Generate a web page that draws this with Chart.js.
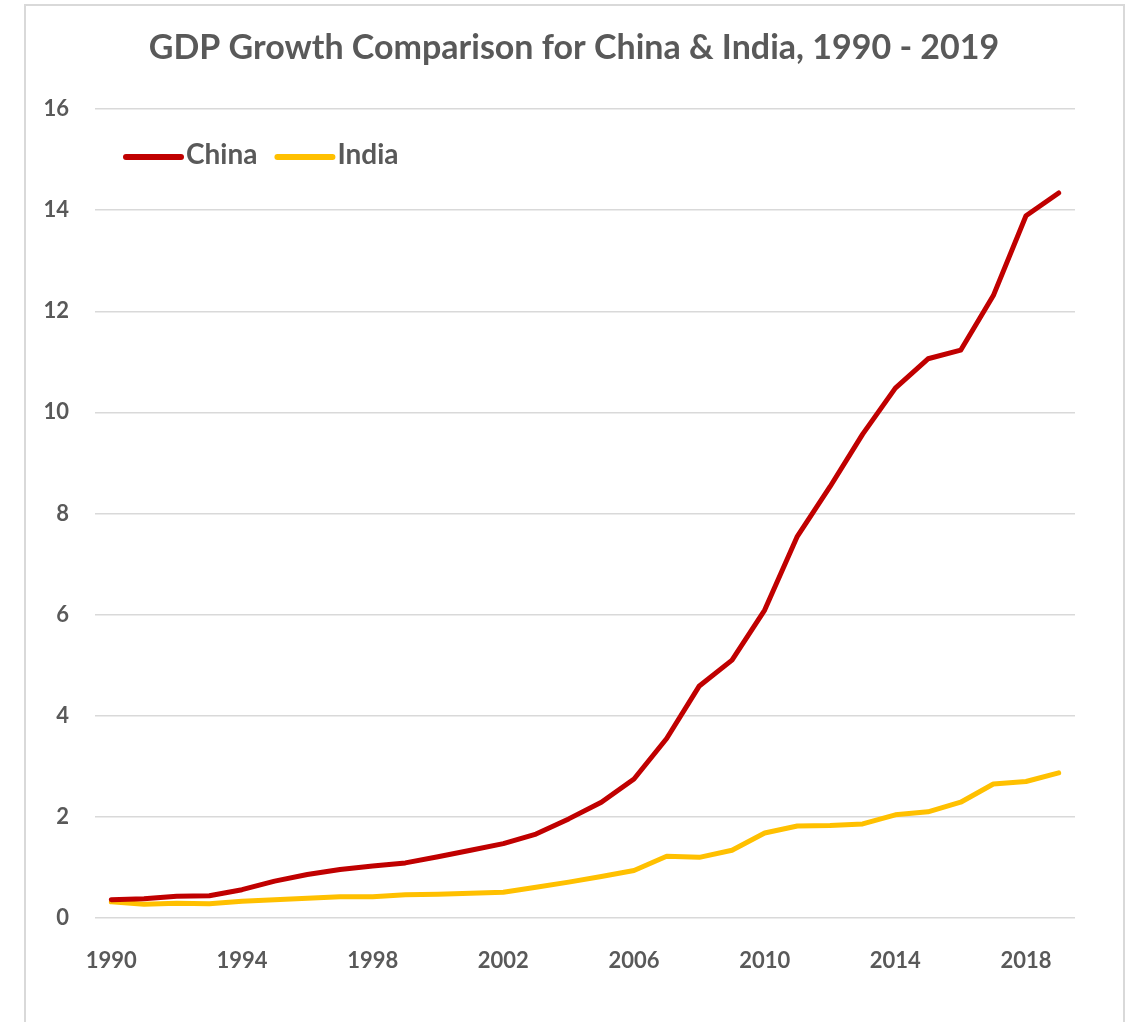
<!DOCTYPE html>
<html>
<head>
<meta charset="utf-8">
<title>GDP Growth Comparison for China & India, 1990 - 2019</title>
<script src="https://cdn.jsdelivr.net/npm/chart.js@4.4.1/dist/chart.umd.min.js"></script>
<style>
  html, body { margin: 0; padding: 0; background: #fff; }
  #wrap { width: 1133px; height: 1022px; position: relative; }
</style>
</head>
<body>
<div id="wrap"><canvas id="grafico" width="1133" height="1022"></canvas></div>
<script>
// anos
var years = [];
for (var y = 1990; y <= 2019; y++) years.push(String(y));

// PIB em trilhões de US$
var china = [0.36, 0.38, 0.43, 0.44, 0.56, 0.73, 0.86, 0.96, 1.03, 1.09,
             1.21, 1.34, 1.47, 1.66, 1.96, 2.29, 2.75, 3.55, 4.59, 5.10,
             6.09, 7.55, 8.53, 9.57, 10.48, 11.06, 11.23, 12.31, 13.89, 14.34];
var india = [0.32, 0.27, 0.29, 0.28, 0.33, 0.36, 0.39, 0.42, 0.42, 0.46,
             0.47, 0.49, 0.51, 0.61, 0.71, 0.82, 0.94, 1.22, 1.20, 1.34,
             1.68, 1.82, 1.83, 1.86, 2.04, 2.10, 2.29, 2.65, 2.70, 2.87];
var yTicks = [0, 2, 4, 6, 8, 10, 12, 14, 16];

var titulo = 'GDP Growth Comparison for China & India, 1990 - 2019';
var textColor = '#595959';
var gridColor = '#D9D9D9';
var fontFamily = 'Lato, "Open Sans", sans-serif';

// moldura, título e legenda desenhados à mão
var extras = {
    id: 'extras',
    beforeDraw: function (chart) {
        var ctx = chart.ctx;
        ctx.save();
        ctx.strokeStyle = gridColor;
        ctx.lineWidth = 2;
        ctx.beginPath();
        ctx.moveTo(25, 1030);
        ctx.lineTo(25, 5);
        ctx.lineTo(1124, 5);
        ctx.lineTo(1124, 1030);
        ctx.stroke();

        ctx.fillStyle = textColor;
        ctx.font = 'bold 34px ' + fontFamily;
        ctx.textAlign = 'center';
        ctx.textBaseline = 'middle';
        ctx.fillText(titulo, 574, 48);
        ctx.restore();
    },
    afterDraw: function (chart) {
        var ctx = chart.ctx;
        var x = 126, yLine = 157;
        ctx.save();
        ctx.font = 'bold 28px ' + fontFamily;
        ctx.textBaseline = 'middle';
        chart.data.datasets.forEach(function (ds) {
            ctx.strokeStyle = ds.borderColor;
            ctx.lineWidth = 6;
            ctx.lineCap = 'round';
            ctx.beginPath();
            ctx.moveTo(x, yLine);
            ctx.lineTo(x + 55, yLine);
            ctx.stroke();
            ctx.fillStyle = textColor;
            ctx.fillText(ds.label, x + 60, yLine - 2);
            x = x + 60 + ctx.measureText(ds.label).width + 20;
        });
        ctx.restore();
    }
};

var ctx = document.querySelector('#grafico').getContext('2d');
var lineChart = new Chart(ctx, {
    type: 'line',
    data: {
        labels: years,
        datasets: [{
            label: 'China',
            data: china,
            borderColor: '#C00000',
            backgroundColor: '#C00000',
            borderWidth: 5,
            pointRadius: 0,
            tension: 0,
            borderCapStyle: 'round',
            borderJoinStyle: 'round'
        },
        {
            label: 'India',
            data: india,
            borderColor: '#FFC000',
            backgroundColor: '#FFC000',
            borderWidth: 5,
            pointRadius: 0,
            tension: 0,
            borderCapStyle: 'round',
            borderJoinStyle: 'round'
        }]
    },
    options: {
        responsive: false,
        animation: false,
        layout: { padding: { left: 0, right: 58, top: 109, bottom: 0 } },
        plugins: {
            legend: { display: false },
            tooltip: { enabled: false },
            title: { display: false }
        },
        scales: {
            x: {
                offset: true,
                grid: { display: false },
                border: { display: false },
                ticks: {
                    autoSkip: false,
                    maxRotation: 0,
                    padding: 22,
                    color: textColor,
                    font: { family: fontFamily, size: 22, weight: 'bold' },
                    callback: function (val, i) {
                        return i % 4 === 0 ? years[i] : '';
                    }
                },
                afterFit: function (scale) { scale.height = 104; }
            },
            y: {
                min: 0,
                max: 16,
                afterBuildTicks: function (scale) {
                    scale.ticks = yTicks.map(function (v) { return { value: v }; });
                },
                grid: { color: gridColor, lineWidth: 1.5, drawTicks: false },
                border: { display: false },
                ticks: {
                    padding: 26,
                    color: textColor,
                    font: { family: fontFamily, size: 22, weight: 'bold' }
                },
                afterFit: function (scale) { scale.width = 95; }
            }
        }
    },
    plugins: [extras]
});
</script>
</body>
</html>
